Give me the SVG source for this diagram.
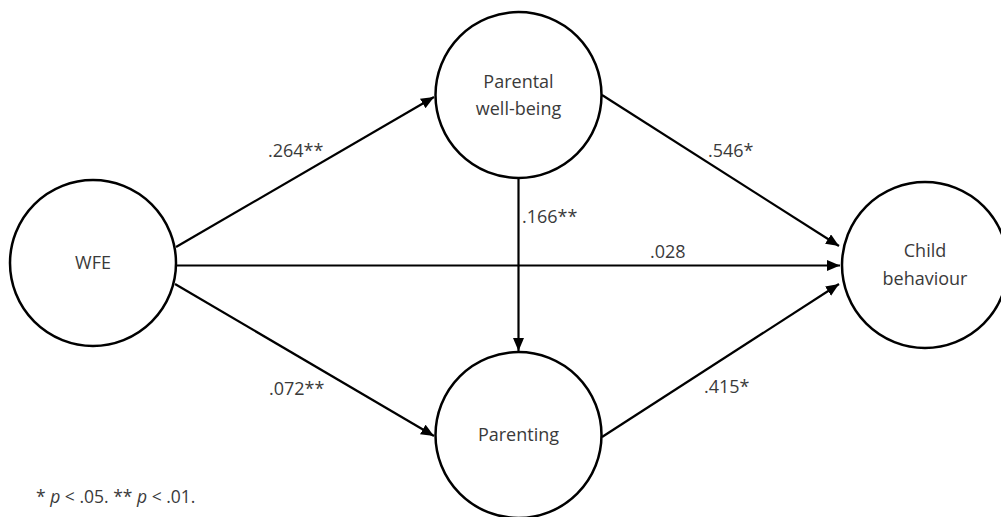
<svg xmlns="http://www.w3.org/2000/svg" width="1001" height="517" viewBox="0 0 1001 517">
<style>
.node{fill:#fff;stroke:#000;stroke-width:2.5}
.lbl{font-family:"Open Sans","Liberation Sans",sans-serif;font-size:18px;fill:#3a3a3a}
.c{text-anchor:middle}
.edge{stroke:#000;stroke-width:2.2;fill:none;marker-end:url(#arr)}
</style>
<defs>
<marker id="arr" markerUnits="userSpaceOnUse" markerWidth="14" markerHeight="12" refX="13" refY="5.5" orient="auto">
<path d="M0,0 L13,5.5 L0,11 z" fill="#000"/>
</marker>
</defs>
<rect width="1001" height="517" fill="#fff"/>
<g id="connectors">
<line class="edge" x1="176" y1="247" x2="434" y2="97"/>
<line class="edge" x1="177" y1="265.5" x2="840" y2="265.5"/>
<line class="edge" x1="175" y1="284" x2="434" y2="436"/>
<line class="edge" x1="602" y1="95" x2="839" y2="246"/>
<line class="edge" x1="518.5" y1="178" x2="518.5" y2="351"/>
<line class="edge" x1="602" y1="437" x2="839" y2="284"/>
</g>
<g id="edge-labels">
<text class="lbl" x="268" y="157">.264**</text>
<text class="lbl" x="522" y="223">.166**</text>
<text class="lbl" x="708" y="157">.546*</text>
<text class="lbl" x="650" y="258">.028</text>
<text class="lbl" x="269" y="395">.072**</text>
<text class="lbl" x="704" y="393">.415*</text>
</g>
<g id="WFE">
<circle class="node" cx="93" cy="263" r="83"/>
<text class="lbl c" x="93" y="269">WFE</text>
</g>
<g id="parental-wellbeing">
<circle class="node" cx="518.5" cy="95" r="83"/>
<text class="lbl c" x="518.5" y="88">Parental</text>
<text class="lbl c" x="518.5" y="115">well-being</text>
</g>
<g id="parenting">
<circle class="node" cx="518.5" cy="435" r="83"/>
<text class="lbl c" x="518.5" y="441">Parenting</text>
</g>
<g id="child-behaviour">
<circle class="node" cx="925" cy="265" r="83"/>
<text class="lbl c" x="925" y="257">Child</text>
<text class="lbl c" x="925" y="285">behaviour</text>
</g>
<g id="note">
<text class="lbl" x="36" y="503" style="font-size:17.5px">* <tspan font-style="italic">p</tspan> &lt; .05. ** <tspan font-style="italic">p</tspan> &lt; .01.</text>
</g>
</svg>
